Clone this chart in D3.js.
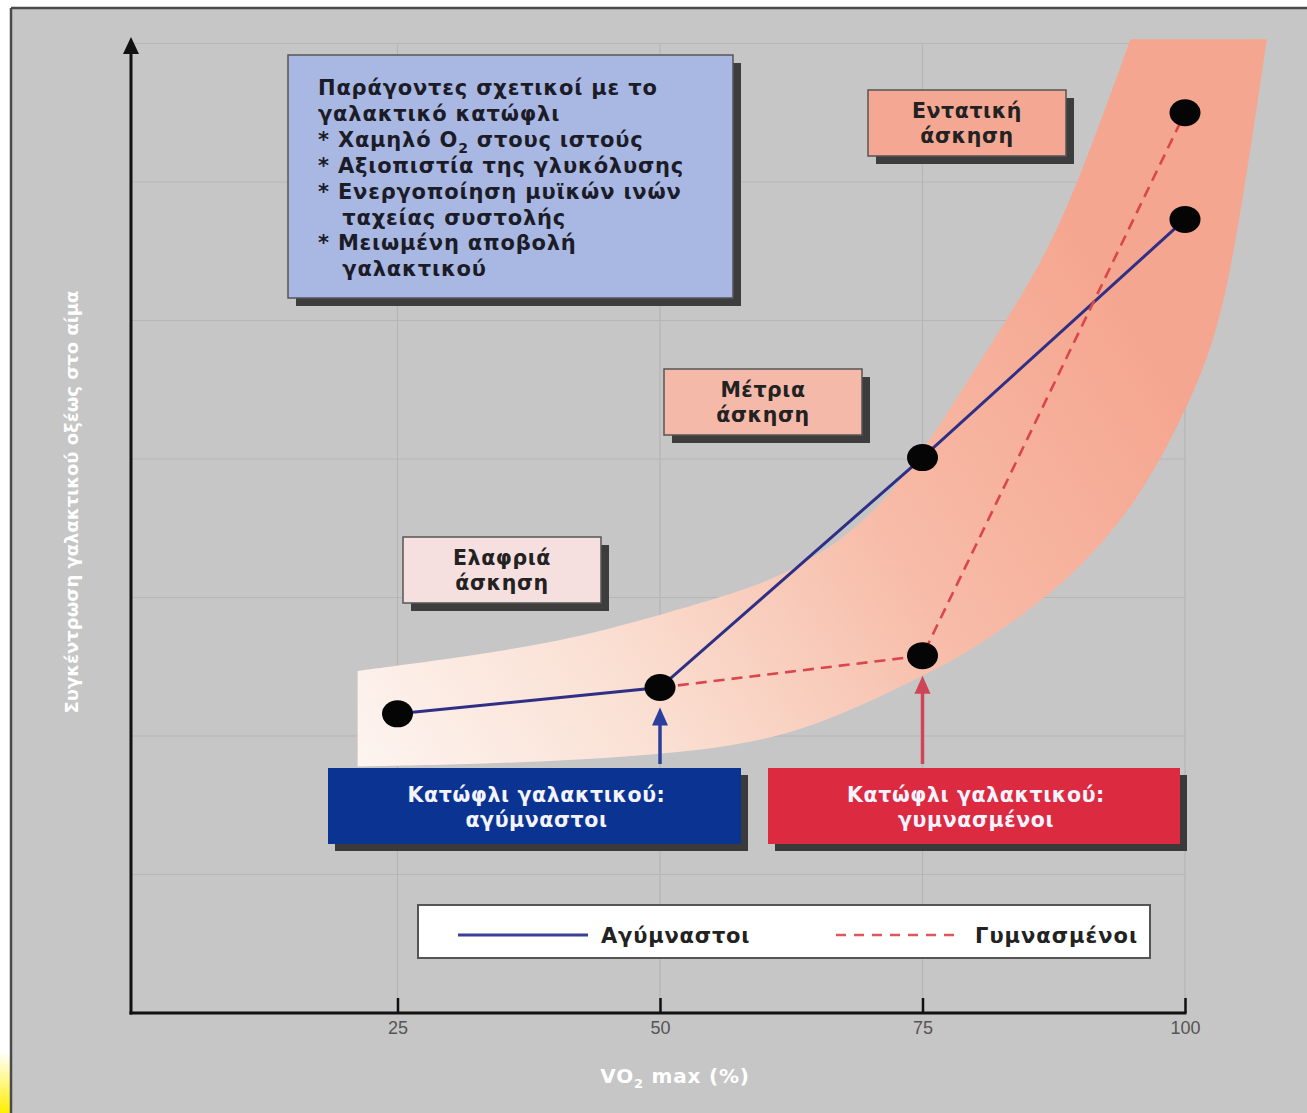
<!DOCTYPE html>
<html><head><meta charset="utf-8">
<script src="https://cdn.jsdelivr.net/npm/d3@7"></script>
<style>body{margin:0;background:#fff}svg{display:block}</style>
</head><body>
<svg id="chart" width="1307" height="1113"></svg>
<script>
// ---------- data ----------
const xTicks = [25, 50, 75, 100];
const xTickLabels = ["25", "50", "75", "100"];
const yGridValues = [1, 2, 3, 4, 5, 6, 7];
const seriesNames = ["Αγύμναστοι", "Γυμνασμένοι"];
const untrainedX = [25, 50, 75, 100];
const untrainedY = [2.16, 2.35, 4.01, 5.73];
const trainedX = [50, 75, 100];
const trainedY = [2.35, 2.58, 6.50];
// shaded lactate band (upper and lower edges)
const bandUpperX = [21.2, 32.2, 41.7, 51.2, 55.7, 60.8, 65.2, 69.0, 72.9, 76.7, 82.4, 87.1, 91.0, 94.8];
const bandUpperY = [2.47, 2.58, 2.70, 2.90, 3.00, 3.13, 3.31, 3.52, 3.83, 4.25, 4.93, 5.51, 6.23, 7.03];
const bandLowerX = [21.2, 35, 50, 60, 67, 75, 80, 89, 95.7, 99.8, 102.7, 104.8, 107.8];
const bandLowerY = [1.78, 1.80, 1.86, 1.96, 2.14, 2.43, 2.63, 3.11, 3.71, 4.31, 4.81, 5.50, 7.03];
const yTitle = "Συγκέντρωση γαλακτικού οξέως στο αίμα";
const xTitleMain = "VO";
const xTitleSub = "2";
const xTitleRest = " max (%)";
const infoLines = [
  ["Παράγοντες σχετικοί με το"],
  ["γαλακτικό κατώφλι"],
  ["* Χαμηλό O", "2", " στους ιστούς"],
  ["* Αξιοπιστία της γλυκόλυσης"],
  ["* Ενεργοποίηση μυϊκών ινών"],
  ["   ταχείας συστολής"],
  ["* Μειωμένη αποβολή"],
  ["   γαλακτικού"]
];
const intensityLabels = [["Ελαφριά", "άσκηση"], ["Μέτρια", "άσκηση"], ["Εντατική", "άσκηση"]];
const thresholdLabels = [["Κατώφλι γαλακτικού:", "αγύμναστοι"], ["Κατώφλι γαλακτικού:", "γυμνασμένοι"]];

// ---------- setup ----------
const svg = d3.select("#chart");
const W = 1307, H = 1113;
const FONT = "'DejaVu Sans', 'Noto Sans', sans-serif";
const x = d3.scaleLinear().domain([0, 100]).range([135, 1185]);
const y = d3.scaleLinear().domain([0, 7]).range([1013, 43.5]);
const axisX = 131;

const defs = svg.append("defs");
const yel = defs.append("linearGradient").attr("id", "yel").attr("x1", 0).attr("y1", 0).attr("x2", 0).attr("y2", 1);
yel.append("stop").attr("offset", 0).attr("stop-color", "#ffffff");
yel.append("stop").attr("offset", 0.6).attr("stop-color", "#fff56a");
yel.append("stop").attr("offset", 1).attr("stop-color", "#ffee00");
const bandGrad = defs.append("linearGradient").attr("id", "band")
  .attr("gradientUnits", "userSpaceOnUse")
  .attr("x1", 360).attr("y1", 770).attr("x2", 1120).attr("y2", 300);
bandGrad.append("stop").attr("offset", 0).attr("stop-color", "#fdf4f0");
bandGrad.append("stop").attr("offset", 0.3).attr("stop-color", "#fae0d3");
bandGrad.append("stop").attr("offset", 0.65).attr("stop-color", "#f7bba7");
bandGrad.append("stop").attr("offset", 1).attr("stop-color", "#f5a690");

// background frame
svg.append("rect").attr("width", W).attr("height", H).attr("fill", "#ffffff");
svg.append("rect").attr("x", 0).attr("y", 1052).attr("width", 10).attr("height", 61).attr("fill", "url(#yel)");
svg.append("rect").attr("x", 11).attr("y", 8).attr("width", W - 11).attr("height", H - 8).attr("fill", "#c6c6c6");
svg.append("line").attr("x1", 11).attr("x2", W).attr("y1", 8).attr("y2", 8).attr("stroke", "#4a4a4a").attr("stroke-width", 2.5);
svg.append("line").attr("x1", 11).attr("x2", 11).attr("y1", 8).attr("y2", H).attr("stroke", "#4a4a4a").attr("stroke-width", 2.5);

// gridlines
const grid = svg.append("g");
grid.selectAll("line.h").data(yGridValues).join("line")
  .attr("x1", axisX).attr("x2", x(100)).attr("y1", d => y(d)).attr("y2", d => y(d))
  .attr("stroke", "#b6b6b6").attr("stroke-width", 1.2);
grid.selectAll("line.v").data(xTicks).join("line")
  .attr("x1", d => x(d)).attr("x2", d => x(d)).attr("y1", y(7)).attr("y2", y(0))
  .attr("stroke", "#b6b6b6").attr("stroke-width", 1.2);

// band
const edge = d3.line().x(d => x(d[0])).y(d => y(d[1])).curve(d3.curveBasis);
const upperPts = bandUpperX.map((v, i) => [v, bandUpperY[i]]);
const lowerPts = bandLowerX.map((v, i) => [v, bandLowerY[i]]).reverse();
const bandPath = edge(upperPts) + edge(lowerPts).replace(/^M/, "L") + "Z";
svg.append("path").attr("d", bandPath).attr("fill", "url(#band)");

// axes
svg.append("line").attr("x1", axisX).attr("x2", axisX).attr("y1", y(0) + 1.5).attr("y2", 50)
  .attr("stroke", "#111").attr("stroke-width", 3);
svg.append("path").attr("d", `M${axisX},37 L${axisX - 8},54 L${axisX + 8},54 Z`).attr("fill", "#111");
svg.append("line").attr("x1", axisX - 1.5).attr("x2", x(100) + 1.5).attr("y1", y(0)).attr("y2", y(0))
  .attr("stroke", "#111").attr("stroke-width", 3);
const xAxis = d3.axisBottom(x).tickValues(xTicks).tickFormat((d, i) => xTickLabels[i]).tickSizeInner(-15).tickSizeOuter(0).tickPadding(8);
const gx = svg.append("g").attr("transform", `translate(0,${y(0)})`).call(xAxis);
gx.select(".domain").remove();
gx.selectAll(".tick line").attr("stroke", "#111").attr("stroke-width", 2.5);
gx.selectAll(".tick text").attr("fill", "#555").attr("font-size", 18).attr("font-family", "'Liberation Sans Narrow', 'Liberation Sans', sans-serif");

// axis titles
const xt = svg.append("text").attr("x", 675).attr("y", 1083).attr("text-anchor", "middle")
  .attr("fill", "#ffffff").attr("font-family", FONT).attr("font-weight", "bold").attr("font-size", 20).attr("letter-spacing", 0.8);
xt.append("tspan").text(xTitleMain);
xt.append("tspan").attr("dy", 5).attr("font-size", 13).text(xTitleSub);
xt.append("tspan").attr("dy", -5).style("white-space", "pre").text(xTitleRest);
svg.append("text").attr("transform", "translate(78,502) rotate(-90)").attr("text-anchor", "middle")
  .attr("fill", "#ffffff").attr("font-family", FONT).attr("font-weight", "bold").attr("font-size", 18).text(yTitle);

// helper: box with drop shadow
function box(x0, y0, w, h, fill, stroke) {
  svg.append("rect").attr("x", x0 + 8).attr("y", y0 + 8).attr("width", w).attr("height", h).attr("fill", "#3d3d3d");
  svg.append("rect").attr("x", x0).attr("y", y0).attr("width", w).attr("height", h).attr("fill", fill)
    .attr("stroke", stroke).attr("stroke-width", 1.5);
}

// info box
box(288, 55, 445, 243, "#a9b8e3", "#555");
const info = svg.append("text").attr("font-family", FONT).attr("font-weight", "bold").attr("font-size", 21)
  .attr("letter-spacing", 0.8).attr("fill", "#1c1c28");
infoLines.forEach((parts, i) => {
  const ty = 95 + i * 25.9;
  info.append("tspan").attr("x", 318).attr("y", ty).style("white-space", "pre").text(parts[0]);
  if (parts.length > 1) {
    info.append("tspan").attr("dy", 6).attr("font-size", 14).text(parts[1]);
    info.append("tspan").attr("dy", -6).style("white-space", "pre").text(parts[2]);
  }
});

// intensity boxes
const intensityBoxes = [
  {x0: 403, y0: 537, w: 198, h: 66, fill: "#f6dfdf"},
  {x0: 664, y0: 369, w: 198, h: 66, fill: "#f5b9aa"},
  {x0: 868, y0: 90, w: 198, h: 66, fill: "#f4a893"}
];
intensityBoxes.forEach((b, i) => {
  box(b.x0, b.y0, b.w, b.h, b.fill, "#555");
  intensityLabels[i].forEach((s, j) => {
    svg.append("text").attr("x", b.x0 + b.w / 2).attr("y", b.y0 + 28 + j * 25).attr("text-anchor", "middle")
      .attr("font-family", FONT).attr("font-weight", "bold").attr("font-size", 20.5).attr("letter-spacing", 0.6)
      .attr("fill", "#222").text(s);
  });
});

// threshold arrows
const arrows = [
  {xv: untrainedX[1], yv: untrainedY[1], color: "#2b3e9c"},
  {xv: trainedX[1], yv: trainedY[1], color: "#cf4456"}
];
arrows.forEach(a => {
  const ax = x(a.xv), tip = y(a.yv) + 20;
  svg.append("line").attr("x1", ax).attr("x2", ax).attr("y1", 764).attr("y2", tip + 14)
    .attr("stroke", a.color).attr("stroke-width", 3.5);
  svg.append("path").attr("d", `M${ax},${tip} L${ax - 8},${tip + 18} L${ax + 8},${tip + 18} Z`).attr("fill", a.color);
});

// threshold boxes
const thBoxes = [
  {x0: 328, y0: 768, w: 413, h: 76, fill: "#0b3492"},
  {x0: 768, y0: 768, w: 412, h: 76, fill: "#dc2a40"}
];
thBoxes.forEach((b, i) => {
  svg.append("rect").attr("x", b.x0 + 7).attr("y", b.y0 + 7).attr("width", b.w).attr("height", b.h).attr("fill", "#3a3a3a");
  svg.append("rect").attr("x", b.x0).attr("y", b.y0).attr("width", b.w).attr("height", b.h).attr("fill", b.fill);
  thresholdLabels[i].forEach((s, j) => {
    svg.append("text").attr("x", b.x0 + b.w / 2 + 2).attr("y", b.y0 + 34 + j * 25).attr("text-anchor", "middle")
      .attr("font-family", FONT).attr("font-weight", "bold").attr("font-size", 20.5).attr("letter-spacing", 0.6)
      .attr("fill", "#f4f4ff").text(s);
  });
});

// series lines
const line = d3.line().x(d => x(d[0])).y(d => y(d[1]));
const untrained = untrainedX.map((v, i) => [v, untrainedY[i]]);
const trained = trainedX.map((v, i) => [v, trainedY[i]]);
svg.append("path").attr("d", line(untrained)).attr("fill", "none").attr("stroke", "#2f2f86").attr("stroke-width", 3);
svg.append("path").attr("d", line(trained)).attr("fill", "none").attr("stroke", "#d9474c").attr("stroke-width", 2.6)
  .attr("stroke-dasharray", "11,7");

// points
const allPts = untrained.concat(trained.slice(1));
svg.selectAll("ellipse.pt").data(allPts).join("ellipse")
  .attr("cx", d => x(d[0])).attr("cy", d => y(d[1])).attr("rx", 15.5).attr("ry", 13.5).attr("fill", "#050505");

// legend
svg.append("rect").attr("x", 418).attr("y", 905).attr("width", 732).attr("height", 53)
  .attr("fill", "#ffffff").attr("stroke", "#555").attr("stroke-width", 2);
svg.append("line").attr("x1", 458).attr("x2", 588).attr("y1", 935).attr("y2", 935).attr("stroke", "#3b3f99").attr("stroke-width", 3);
svg.append("text").attr("x", 601).attr("y", 943).attr("font-family", FONT).attr("font-weight", "bold").attr("font-size", 21)
  .attr("letter-spacing", 0.8).attr("fill", "#222").text(seriesNames[0]);
svg.append("line").attr("x1", 836).attr("x2", 962).attr("y1", 935).attr("y2", 935).attr("stroke", "#e0575a").attr("stroke-width", 2.5).attr("stroke-dasharray", "10,8");
svg.append("text").attr("x", 975).attr("y", 943).attr("font-family", FONT).attr("font-weight", "bold").attr("font-size", 21)
  .attr("letter-spacing", 1).attr("fill", "#222").text(seriesNames[1]);
</script>
</body></html>
